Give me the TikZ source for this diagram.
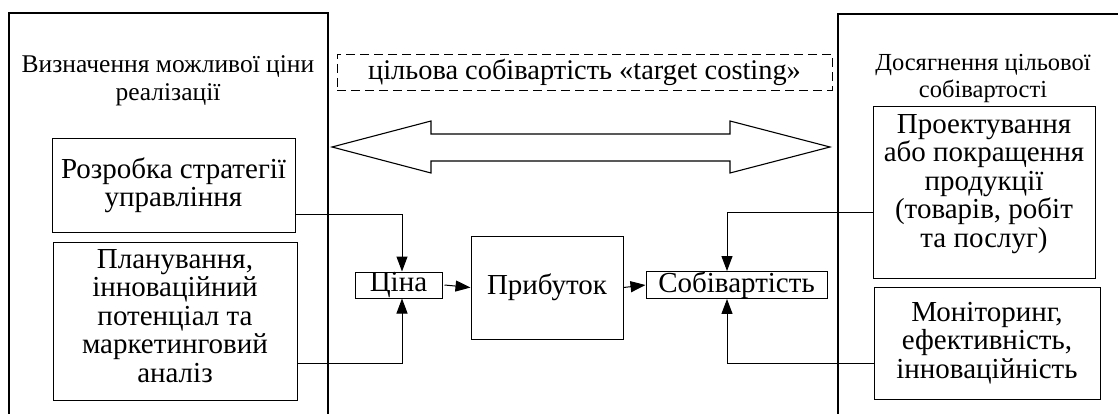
\documentclass[tikz,border=0pt]{standalone}
\usepackage{fontspec}
\setmainfont{Liberation Serif}
\usetikzlibrary{arrows.meta,calc}
\begin{document}
\begin{tikzpicture}[x=1pt,y=-1pt,
  bx/.style={draw, line width=1pt, inner sep=0pt},
  txt/.style={inner sep=0pt, align=center, font=\fontsize{29}{28.5}\selectfont},
  box/.style={bx, txt},
  ttl/.style={inner sep=0pt, align=center},
  arr/.style={line width=1pt, -{Triangle[length=15pt,width=11pt]}},
  panel/.style={line width=1.2pt}]
\useasboundingbox (0,0) rectangle (1118,414);
\fill[white] (0,0) rectangle (1118,414);
% panels
\draw[panel] (9,414) -- (9,13) -- (328,13) -- (328,414);
\draw[panel] (838,414) -- (838,14) -- (1118,14);
% titles
\node[ttl, font=\fontsize{25.5}{28.5}\selectfont] (lt) at (168,81) {Визначення можливої ціни\\реалізації};
\node[ttl, font=\fontsize{24.5}{27.5}\selectfont] (rt) at (983,78.5) {Досягнення цільової\\собівартості};
% dashed box
\node[draw, dash pattern=on 9pt off 5pt, line width=0.9pt, minimum width=495pt, minimum height=36pt, inner sep=0pt,
  font=\fontsize{28.4}{28}\selectfont] (tc) at (584.5,72) {цільова собівартість «target costing»};
% double arrow
\draw[line width=1.1pt] (332,147) -- (431,121) -- (431,134) -- (730,134) -- (730,121) -- (830,147)
  -- (730,173) -- (730,161) -- (431,161) -- (431,173) -- cycle;
% left boxes
\node[box, minimum width=243pt, minimum height=93pt] (lb1) at (173.5,185.5) {Розробка стратегії\\управління};
\node[bx, minimum width=244pt, minimum height=158pt] (lb2) at (175,321) {};
\node[txt] (lb2t) at (175,316) {Планування,\\інноваційний\\потенціал та\\маркетинговий\\аналіз};
% centre
\node[box, minimum width=87pt, minimum height=26pt] (cena) at (398.5,285) {Ціна};
\node[box, minimum width=152pt, minimum height=103pt] (prib) at (547,287.5) {Прибуток};
\node[box, minimum width=181pt, minimum height=26pt] (sob) at (736.5,285) {Собівартість};
% right boxes
\node[bx, minimum width=222pt, minimum height=171pt] (rb1) at (984,192.5) {};
\node[txt] (rb1t) at (984,184) {Проектування\\або покращення\\продукції\\(товарів, робіт\\та послуг)};
\node[box, minimum width=226pt, minimum height=112pt] (rb2) at (987,343) {Моніторинг,\\ефективність,\\інноваційність};
% connectors
\draw[arr] ([yshift=-28.5pt]lb1.east) -| ([xshift=3.5pt]cena.north);
\draw[arr] ([yshift=-42pt]lb2.east) -| ([xshift=3.5pt]cena.south);
\draw[arr] ([xshift=2pt]cena.east) -- (prib.west);
\draw[arr] (prib.east) -- (sob.west);
\draw[arr] ([yshift=-19.5pt]rb1.west) -| ([xshift=-9.5pt]sob.north);
\draw[arr] ([yshift=-20pt]rb2.west) -| ([xshift=-9.5pt]sob.south);
\end{tikzpicture}
\end{document}
